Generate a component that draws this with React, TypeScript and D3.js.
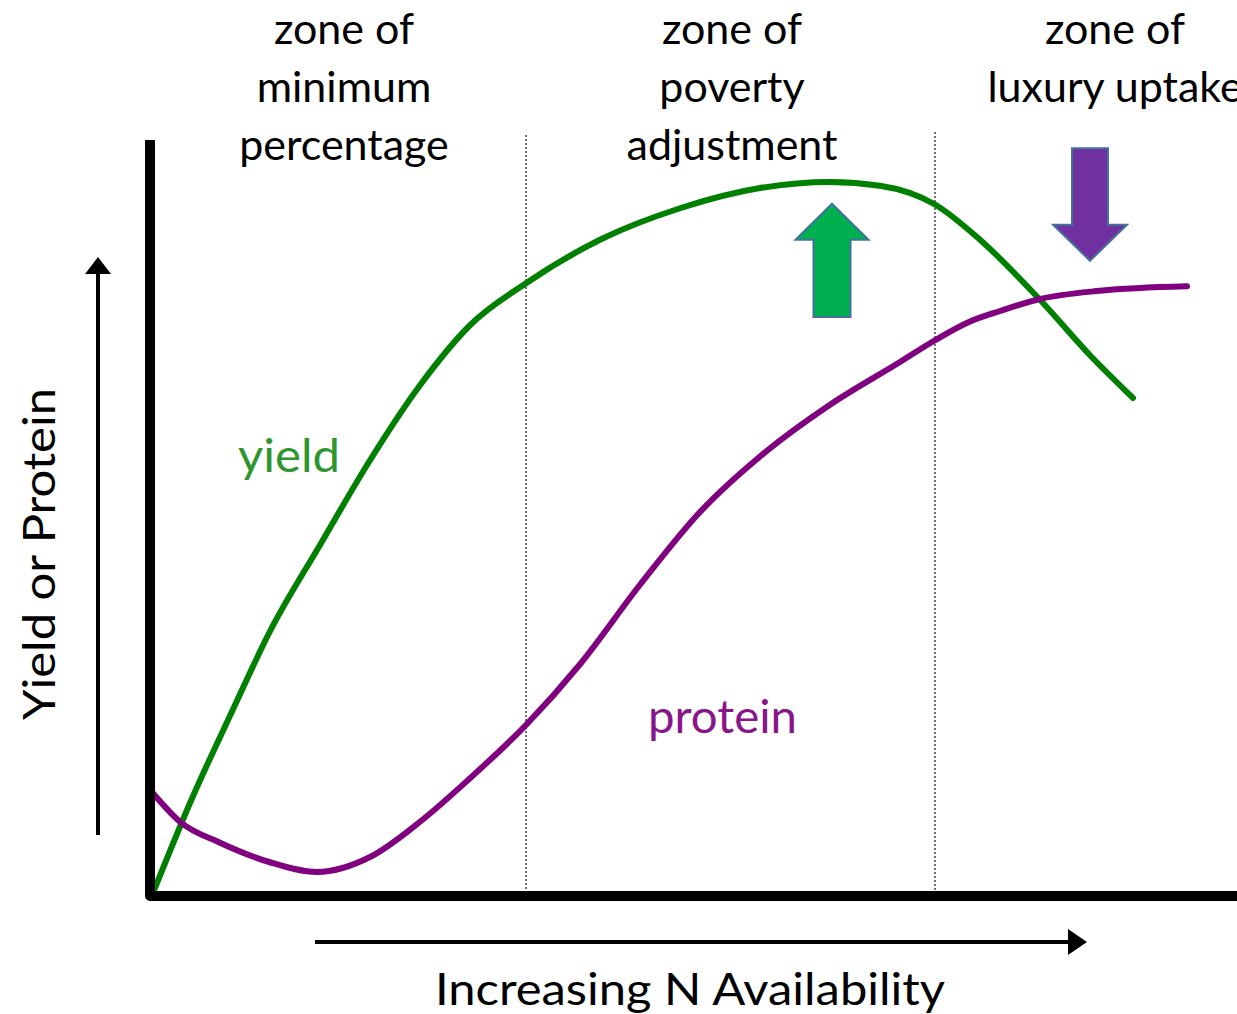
import React from "react";
import * as d3 from "d3";

// ---- data (x: N availability units 0-100, y: relative response 0-100) ----
const yieldX = [0.3, 4, 8.2, 12, 17, 22, 27, 32, 37.6, 45, 53, 61, 68, 73, 78.5, 83, 89, 94, 98.3];
const yieldY = [0.4, 12.4, 24.6, 35.3, 46.8, 58.1, 68.1, 76.1, 81.7, 87.5, 91.7, 94.4, 95.2, 94.7, 92.2, 87.5, 79.5, 72.1, 66.4];

const proteinX = [0.3, 3, 7, 12, 16.7, 22, 27, 32, 37.6, 43, 49, 55, 61, 68, 75, 78.5, 82, 85, 89, 95, 103.7];
const proteinY = [13.7, 9.9, 7.1, 4.5, 3.2, 5.2, 9.9, 15.7, 22.8, 30.9, 41.5, 51.2, 58.6, 65.5, 71.2, 74.1, 76.6, 78.0, 79.6, 80.7, 81.3];

const zoneBoundaries = [37.6, 78.5];
const zoneCenters = [19.4, 58.2, 96.5];
const zoneLabels = [
  ["zone of", "minimum", "percentage"],
  ["zone of", "poverty", "adjustment"],
  ["zone of", "luxury uptake"],
];

const upArrow = { x: 68.2, tip: 92.3, base: 77.2 };
const downArrow = { x: 94, tip: 84.7, top: 99.7 };

const xTitle = "Increasing N Availability";
const yTitle = "Yield or Protein";

const W = 1237;
const H = 1014;

export default function App() {
  const x = d3.scaleLinear().domain([0, 100]).range([150, 1150]);
  const y = d3.scaleLinear().domain([0, 100]).range([896, 146]);

  const line = d3
    .line<[number, number]>()
    .x((d) => x(d[0]))
    .y((d) => y(d[1]))
    .curve(d3.curveMonotoneX);

  const yieldPts = yieldX.map((v, i) => [v, yieldY[i]] as [number, number]);
  const protPts = proteinX.map((v, i) => [v, proteinY[i]] as [number, number]);

  const font = "Lato, 'Open Sans', sans-serif";

  // block arrows
  const ux = x(upArrow.x);
  const uTip = y(upArrow.tip);
  const uBase = y(upArrow.base);
  const uHead = uTip + 36;
  const upPath = `M${ux},${uTip} L${ux + 36.5},${uHead} L${ux + 18.5},${uHead} L${ux + 18.5},${uBase} L${ux - 18.5},${uBase} L${ux - 18.5},${uHead} L${ux - 36.5},${uHead} Z`;

  const dx = x(downArrow.x);
  const dTip = y(downArrow.tip);
  const dTop = y(downArrow.top);
  const dHead = dTip - 36;
  const downPath = `M${dx},${dTip} L${dx + 37},${dHead} L${dx + 18},${dHead} L${dx + 18},${dTop} L${dx - 18},${dTop} L${dx - 18},${dHead} L${dx - 37},${dHead} Z`;

  return (
    <svg
      width={W}
      height={H}
      style={{ position: "absolute", left: 0, top: 0, background: "#fff", display: "block" }}
      fontFamily={font}
    >
      <rect x={0} y={0} width={W} height={H} fill="#fff" />

      {/* zone dividers */}
      {zoneBoundaries.map((b, i) => (
        <line
          key={i}
          x1={x(b)}
          x2={x(b)}
          y1={i === 0 ? 135 : 132}
          y2={890}
          stroke="#444"
          strokeWidth={1.5}
          strokeDasharray="2,2"
        />
      ))}

      {/* zone labels */}
      {zoneLabels.map((lines, i) => (
        <text key={i} textAnchor="middle" fontSize={43} fill="#000">
          {lines.map((t, j) => (
            <tspan key={j} x={x(zoneCenters[i])} y={44 + j * 58}>
              {t}
            </tspan>
          ))}
        </text>
      ))}

      {/* curves */}
      <path d={line(yieldPts) || ""} fill="none" stroke="#008000" strokeWidth={6} strokeLinecap="round" />
      <path d={line(protPts) || ""} fill="none" stroke="#800080" strokeWidth={6} strokeLinecap="round" />

      {/* block arrows */}
      <path d={upPath} fill="#00B050" stroke="#41719C" strokeWidth={2} />
      <path d={downPath} fill="#7030A0" stroke="#41719C" strokeWidth={2} />

      {/* series labels */}
      <text x={238} y={472} fontSize={46} fill="#2e962e" textLength={102} lengthAdjust="spacingAndGlyphs">
        yield
      </text>
      <text x={648} y={733} fontSize={46} fill="#88168a" textLength={149} lengthAdjust="spacingAndGlyphs">
        protein
      </text>

      {/* axes */}
      <path d={`M${x(0)},140 L${x(0)},${y(0)} L${W + 10},${y(0)}`} fill="none" stroke="#000" strokeWidth={10} strokeLinejoin="round" />

      {/* y direction arrow */}
      <line x1={98} x2={98} y1={835} y2={272} stroke="#000" strokeWidth={4} />
      <path d="M85,274 L98,257 L111,274 Z" fill="#000" />
      <text
        transform="translate(55,554) rotate(-90)"
        textAnchor="middle"
        fontSize={45}
        fill="#000"
        textLength={332}
        lengthAdjust="spacingAndGlyphs"
      >
        {yTitle}
      </text>

      {/* x direction arrow */}
      <line x1={315} x2={1070} y1={942} y2={942} stroke="#000" strokeWidth={4} />
      <path d="M1068,929 L1087,942 L1068,955 Z" fill="#000" />
      <text x={435} y={1005} fontSize={45} fill="#000" textLength={510} lengthAdjust="spacingAndGlyphs">
        {xTitle}
      </text>
    </svg>
  );
}
